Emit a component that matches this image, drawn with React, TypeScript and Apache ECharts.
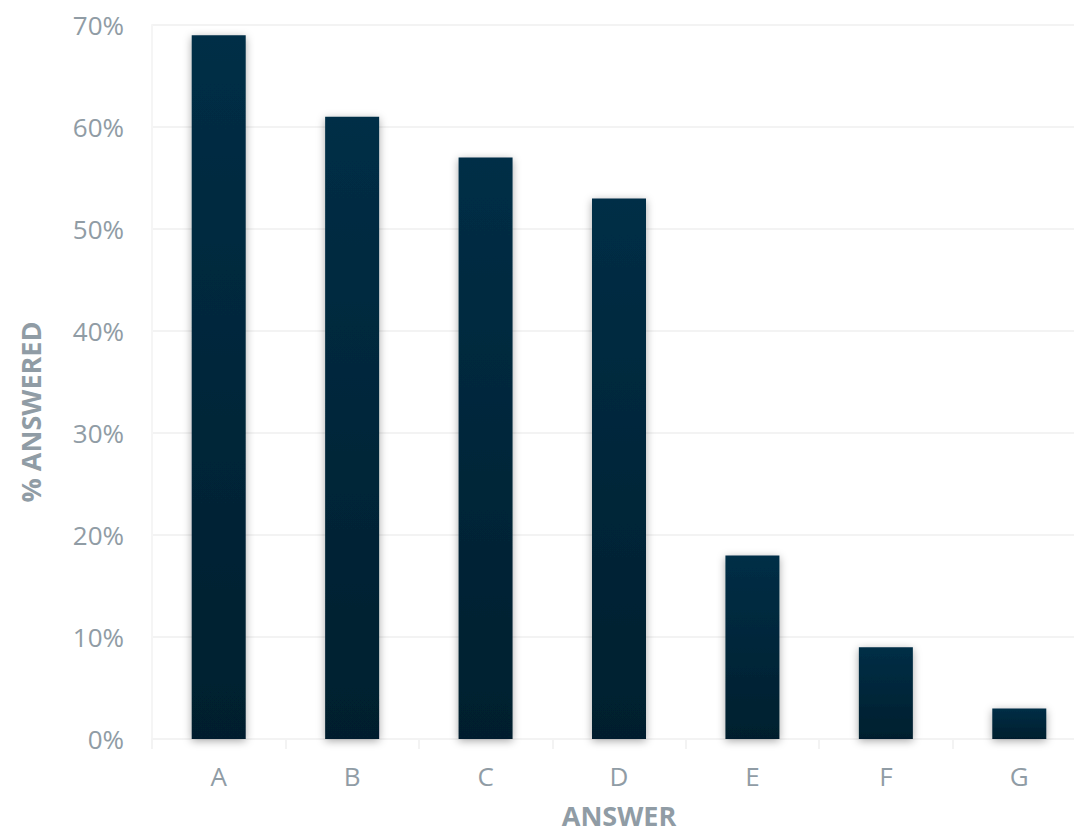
import React, { useEffect, useRef } from "react";
import * as echarts from "echarts";

const categories = ["A", "B", "C", "D", "E", "F", "G"];
const percentAnswered = [69, 61, 57, 53, 18, 9, 3];
const yTicks = { min: 0, max: 70, interval: 10 };

export default function App() {
  const ref = useRef<HTMLDivElement>(null);
  useEffect(() => {
    document.body.style.margin = "0";
    const chart = echarts.init(ref.current!, null, { renderer: "svg" });
    const labelColor = "#909ca5";
    chart.setOption({
      animation: false,
      backgroundColor: "#ffffff",
      textStyle: { fontFamily: "Open Sans" },
      grid: {
        left: 152,
        right: -12,
        top: 25,
        bottom: 94,
        containLabel: false,
        outerBoundsMode: "none",
      },
      xAxis: {
        type: "category",
        data: categories,
        name: "ANSWER",
        nameLocation: "middle",
        nameGap: 63,
        nameTextStyle: {
          color: labelColor,
          fontSize: 27,
          lineHeight: 26,
          fontWeight: "bold",
          fontFamily: "Open Sans",
        },
        axisLine: { show: true, lineStyle: { color: "#f3f3f3", width: 2 } },
        axisTick: { show: true, length: 10, lineStyle: { color: "#f3f3f3", width: 2 } },
        axisLabel: { color: labelColor, fontSize: 26, margin: 24, fontFamily: "Open Sans" },
      },
      yAxis: {
        type: "value",
        min: yTicks.min,
        max: yTicks.max,
        interval: yTicks.interval,
        name: "% ANSWERED",
        nameLocation: "middle",
        nameGap: 108,
        nameRotate: 90,
        nameTextStyle: {
          color: labelColor,
          fontSize: 27,
          fontWeight: "bold",
          fontFamily: "Open Sans",
          padding: [0, 60, 0, 0],
        },
        axisLine: { show: true, lineStyle: { color: "#f5f5f5", width: 2 } },
        axisTick: { show: false },
        splitLine: { show: true, lineStyle: { color: "#f3f3f3", width: 2 } },
        axisLabel: { color: labelColor, fontSize: 26, margin: 28, formatter: "{value}%", fontFamily: "Open Sans" },
      },
      series: [
        {
          type: "bar",
          data: percentAnswered,
          barWidth: 54,
          itemStyle: {
            color: new echarts.graphic.LinearGradient(0, 0, 0, 1, [
              { offset: 0, color: "#052e46" },
              { offset: 1, color: "#011f2e" },
            ]),
            shadowColor: "rgba(0,0,0,0.35)",
            shadowBlur: 8,
            shadowOffsetY: 2,
          },
        },
      ],
    });
    return () => chart.dispose();
  }, []);
  return <div ref={ref} style={{ width: 1074, height: 833 }} />;
}
